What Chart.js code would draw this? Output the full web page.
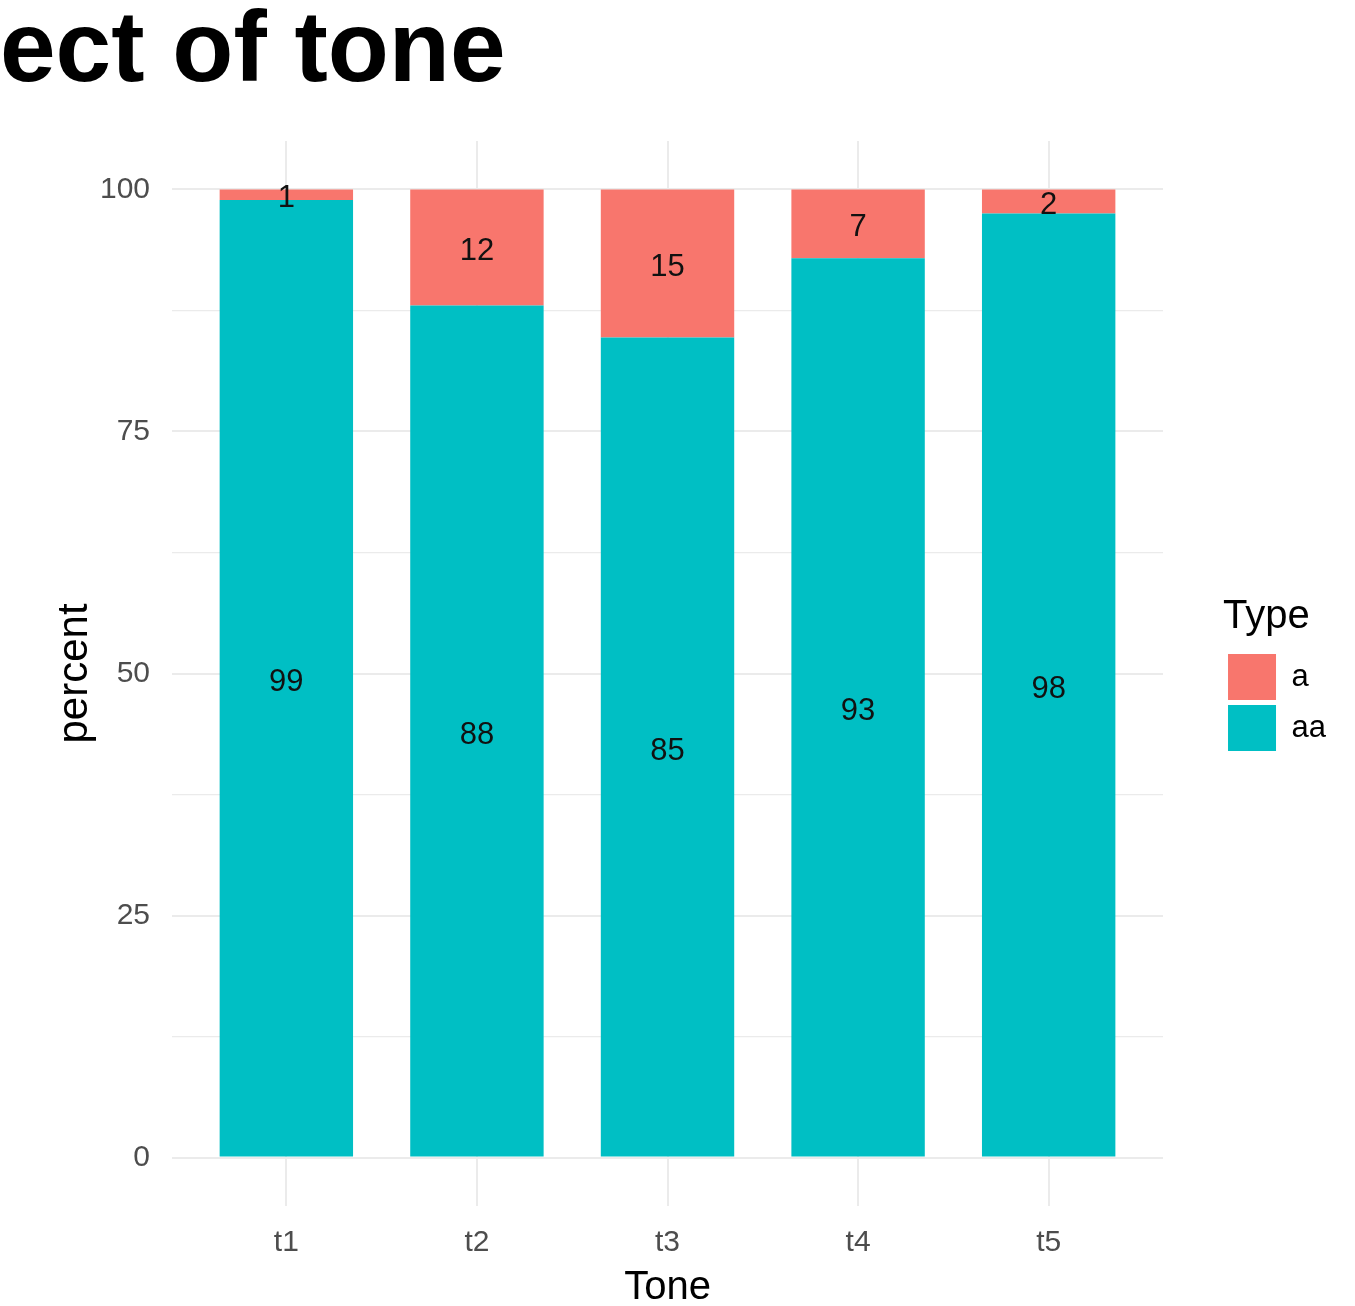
<!DOCTYPE html>
<html>
<head>
<meta charset="utf-8">
<script src="https://cdn.jsdelivr.net/npm/chart.js@4.4.1/dist/chart.umd.min.js"></script>
<style>
  html, body { margin: 0; padding: 0; background: #fff; }
  #wrap { width: 1355px; height: 1306px; }
</style>
</head>
<body>
<div id="wrap"><canvas id="toneChart" width="1355" height="1306"></canvas></div>
<script>
// data
const tones = ['t1', 't2', 't3', 't4', 't5'];
const aValues = [1.1, 12.0, 15.3, 7.1, 2.5];
const aaValues = [98.9, 88.0, 84.7, 92.9, 97.5];
const aLabels = [1, 12, 15, 7, 2];
const aaLabels = [99, 88, 85, 93, 98];
const yTicks = [0, 12.5, 25, 37.5, 50, 62.5, 75, 87.5, 100];

const FONT = '"Liberation Sans", Arial, Helvetica, sans-serif';
Chart.defaults.font.family = FONT;

// text in the middle of each stacked piece
const segmentLabels = {
    id: 'segmentLabels',
    afterDatasetsDraw(chart) {
        const ctx = chart.ctx;
        ctx.save();
        ctx.font = '31px ' + FONT;
        ctx.fillStyle = '#111';
        ctx.textAlign = 'center';
        ctx.textBaseline = 'middle';
        chart.data.datasets.forEach((ds, i) => {
            chart.getDatasetMeta(i).data.forEach((bar, j) => {
                const { x, y, base } = bar.getProps(['x', 'y', 'base'], true);
                ctx.fillText(String(ds.valueLabels[j]), x, (y + base) / 2 + 4);
            });
        });
        ctx.restore();
    }
};

const toPoints = (vals) => vals.map((v, i) => ({ x: i + 1, y: v }));

new Chart(document.getElementById('toneChart'), {
    type: 'bar',
    data: {
        datasets: [
            {
                label: 'aa',
                data: toPoints(aaValues),
                valueLabels: aaLabels,
                backgroundColor: '#00BFC4',
                borderWidth: 0
            },
            {
                label: 'a',
                data: toPoints(aValues),
                valueLabels: aLabels,
                backgroundColor: '#F8766D',
                borderWidth: 0
            }
        ]
    },
    options: {
        responsive: false,
        animation: false,
        categoryPercentage: 0.7,
        barPercentage: 1.0,
        layout: { padding: { left: 0, top: 0, bottom: 0, right: 19 } },
        scales: {
            x: {
                type: 'linear',
                stacked: true,
                offset: false,
                min: 0.4,
                max: 5.6,
                afterBuildTicks: (scale) => {
                    scale.ticks = tones.map((t, i) => ({ value: i + 1 }));
                },
                afterFit: (scale) => { scale.height = 100; },
                grid: { color: '#EBEBEB', lineWidth: 2, drawTicks: false, offset: false },
                border: { display: false },
                ticks: {
                    color: '#4D4D4D',
                    font: { size: 30 },
                    padding: 19,
                    callback: (v) => tones[v - 1]
                },
                title: {
                    display: true,
                    text: 'Tone',
                    color: '#000',
                    font: { size: 40, lineHeight: 0.9 },
                    padding: { top: 0, bottom: 0 }
                }
            },
            y: {
                stacked: true,
                min: -5,
                max: 105,
                afterBuildTicks: (scale) => {
                    scale.ticks = yTicks.map(v => ({ value: v }));
                },
                afterFit: (scale) => { scale.width = 172; },
                grid: {
                    color: '#EBEBEB',
                    lineWidth: (c) => (c.tick && c.tick.value % 25 === 0 ? 2 : 1.2),
                    drawTicks: false
                },
                border: { display: false },
                ticks: {
                    color: '#4D4D4D',
                    font: { size: 30 },
                    padding: 22,
                    callback: (v) => (v % 25 === 0 ? v : '')
                },
                title: {
                    display: true,
                    text: 'percent',
                    color: '#000',
                    font: { size: 42, lineHeight: 1.2 },
                    padding: { top: 50, bottom: 0 }
                }
            },
            // empty strip between the panel and the legend
            gap: {
                type: 'linear',
                position: 'right',
                display: true,
                grid: { display: false },
                border: { display: false },
                ticks: { display: false },
                afterFit: (scale) => { scale.width = 60; }
            }
        },
        plugins: {
            title: {
                display: true,
                text: 'ect of tone',
                align: 'start',
                color: '#000',
                font: { size: 100, weight: 'bold', lineHeight: 1 },
                padding: { top: 3, bottom: 38 }
            },
            legend: {
                position: 'right',
                fullSize: false,
                reverse: true,
                title: {
                    display: true,
                    text: 'Type',
                    position: 'start',
                    color: '#000',
                    font: { size: 40, lineHeight: 1.1 },
                    padding: { top: 6, bottom: 8 }
                },
                labels: {
                    boxWidth: 48,
                    boxHeight: 46,
                    padding: 5,
                    color: '#000',
                    font: { size: 31 }
                }
            },
            tooltip: { enabled: false }
        }
    },
    plugins: [segmentLabels]
});
</script>
</body>
</html>
